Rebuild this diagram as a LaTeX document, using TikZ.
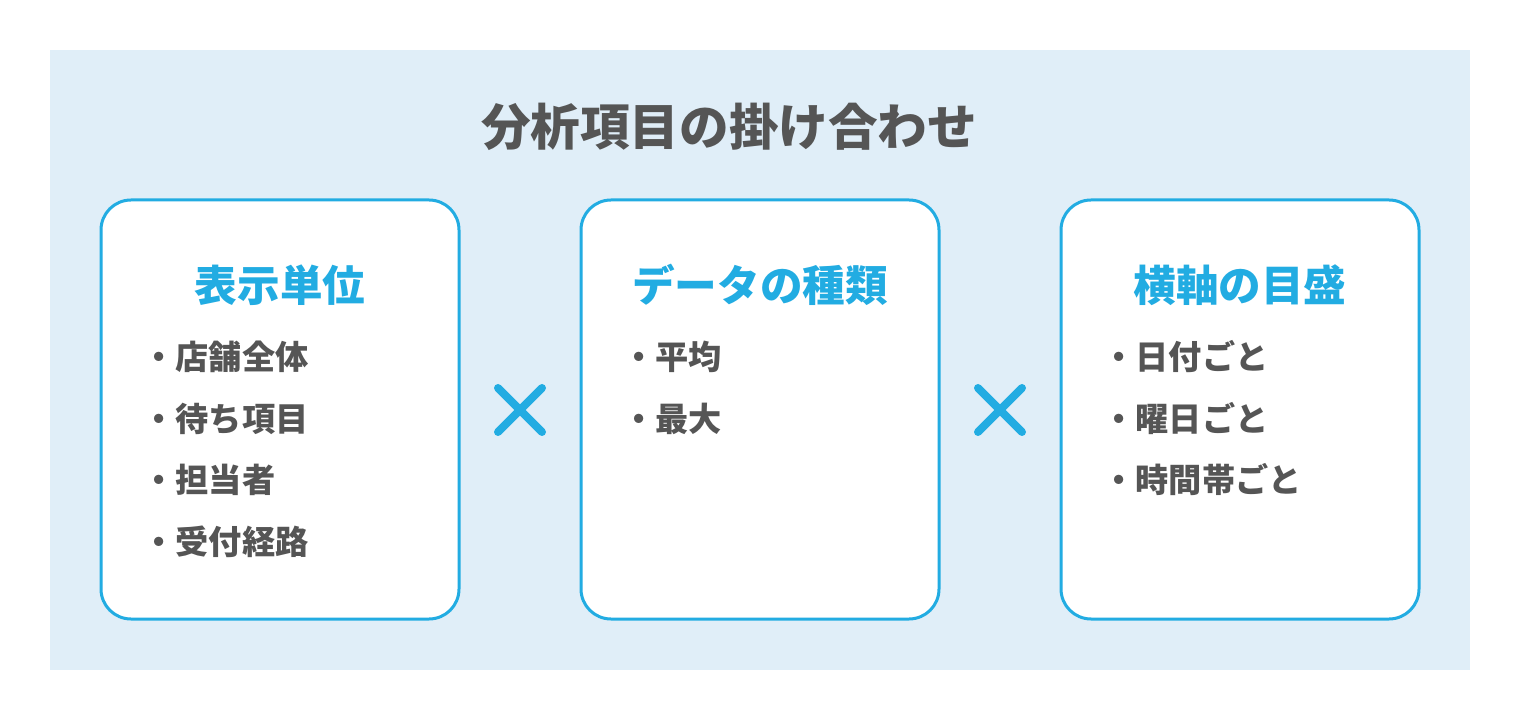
\documentclass[tikz,border=0pt]{standalone}
\usepackage{fontspec}
\setmainfont{Noto Sans CJK JP}
\usetikzlibrary{positioning}
\definecolor{bgblue}{RGB}{224,238,248}
\definecolor{accent}{RGB}{34,172,226}
\definecolor{ink}{RGB}{85,85,85}

\begin{document}
\begin{tikzpicture}[
  x=0.5pt, y=-0.5pt,
  card/.style={draw=accent, line width=1.5pt, rounded corners=15pt, fill=white,
               minimum width=179pt, minimum height=209.5pt, inner sep=0pt},
  ttl/.style={font=\fontsize{24.8}{28}\selectfont\bfseries, text=ink, inner sep=0pt},
  hd/.style={font=\fontsize{21.3}{25}\selectfont\bfseries, text=accent, inner sep=0pt},
  item/.style={font=\fontsize{16.6}{20}\selectfont\bfseries, text=ink,
               anchor=west, inner sep=0pt},
  cross/.style={draw=accent, line width=4pt, line cap=round},
]
\useasboundingbox (0,0) rectangle (1520,721);
\fill[bgblue] (50,50) rectangle (1470,670);

\node[ttl] (title) at (729,127) {分析項目の掛け合わせ};

% three cards
\node[card] (unit) at (280,409.5) {};
\node[card] (kind) at (760,409.5) {};
\node[card] (axis) at (1240,409.5) {};

\node[hd] (unitHd) at (280,285) {表示単位};
\node[hd] (kindHd) at (760,285) {データの種類};
\node[hd] (axisHd) at (1240,285) {横軸の目盛};

\node[item] (unit1) at (142,357) {・店舗全体};
\node[item] (unit2) at (142,418.5) {・待ち項目};
\node[item] (unit3) at (142,480) {・担当者};
\node[item] (unit4) at (142,541.5) {・受付経路};

\node[item] (kind1) at (622,357) {・平均};
\node[item] (kind2) at (622,418.5) {・最大};

\node[item] (axis1) at (1102,357) {・日付ごと};
\node[item] (axis2) at (1102,418.5) {・曜日ごと};
\node[item] (axis3) at (1102,480) {・時間帯ごと};

% multiplication signs
\draw[cross] (498,388) -- (542,432);
\draw[cross] (542,388) -- (498,432);
\draw[cross] (978,388) -- (1022,432);
\draw[cross] (1022,388) -- (978,432);
\end{tikzpicture}
\end{document}
